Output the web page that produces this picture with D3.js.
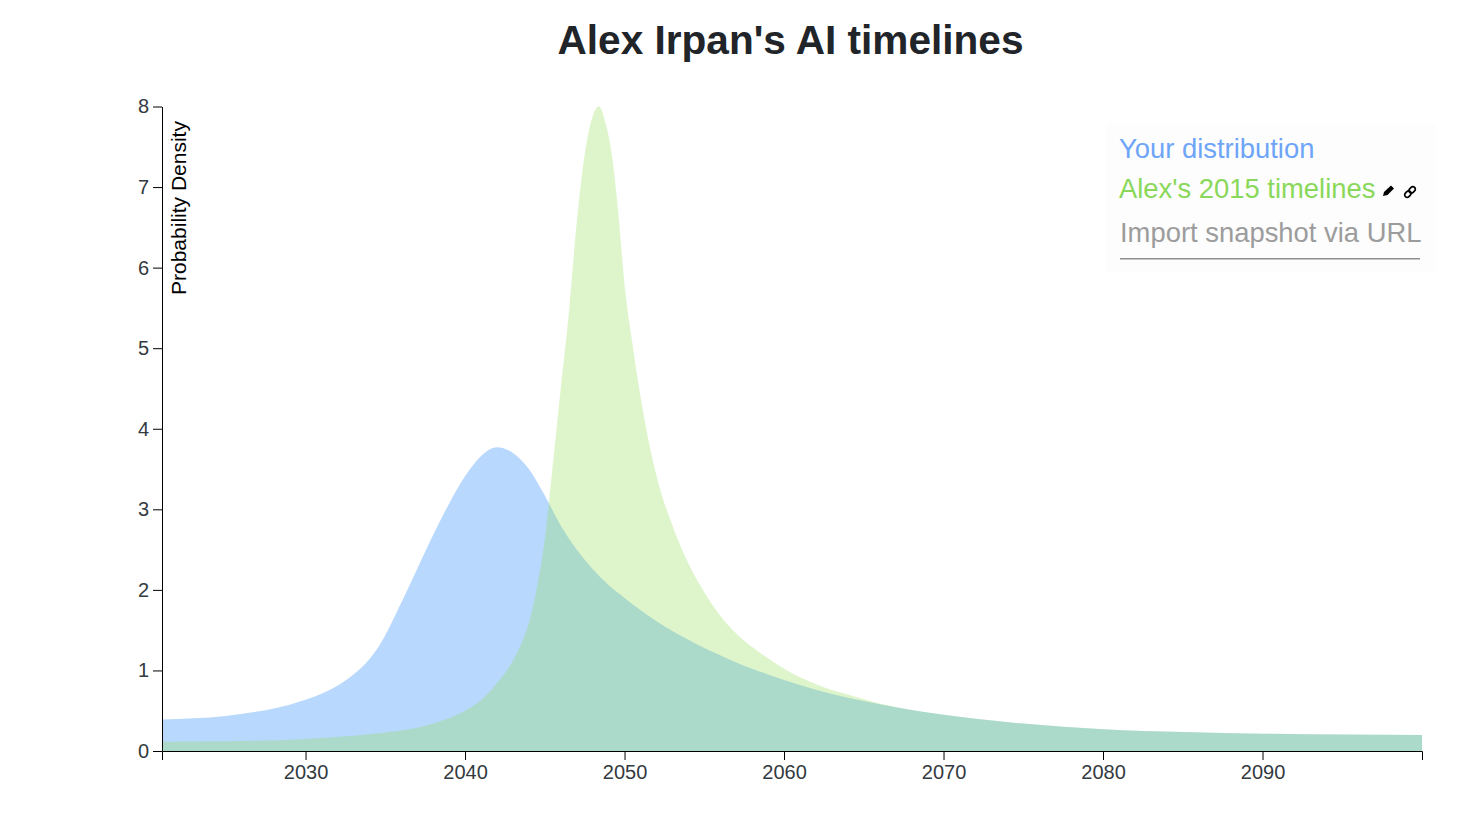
<!DOCTYPE html>
<html>
<head>
<meta charset="utf-8">
<script src="https://cdn.jsdelivr.net/npm/d3@7"></script>
<style>
html,body{margin:0;padding:0;background:#fff;overflow:hidden}
svg{display:block;font-family:"Liberation Sans",Arial,sans-serif}
</style>
</head>
<body>
<svg id="c" width="1460" height="822"></svg>
<script>
const title = "Alex Irpan's AI timelines";
const yLabel = "Probability Density";
const xTicks = [2030,2040,2050,2060,2070,2080,2090];
const yTicks = [0,1,2,3,4,5,6,7,8];
const legendLabels = ["Your distribution","Alex's 2015 timelines","Import snapshot via URL"];

const blueYears = [2021,2023,2025,2027,2029,2030,2031,2032,2033,2034,2034.6,2036,2037,2038,2039,2040,2041,2042,2043,2044,2045,2046,2047,2048,2049,2050,2051,2052,2053,2054,2055,2056,2057,2058,2059,2060,2062,2064,2066,2068,2070,2072,2075,2080,2085,2090,2095,2100];
const blueValues = [0.39,0.405,0.435,0.49,0.575,0.635,0.71,0.81,0.95,1.14,1.30,1.84,2.26,2.68,3.07,3.41,3.66,3.77,3.70,3.50,3.17,2.80,2.50,2.26,2.06,1.90,1.75,1.61,1.49,1.38,1.28,1.19,1.10,1.02,0.95,0.88,0.76,0.66,0.58,0.51,0.45,0.40,0.34,0.27,0.235,0.215,0.205,0.20];

const greenYears = [2021,2025,2030,2033,2035,2037,2038,2039,2040,2041,2042,2043,2043.5,2044,2044.5,2045,2045.5,2046,2046.5,2047,2047.5,2048,2048.4,2048.8,2049.2,2049.6,2050,2050.5,2051,2052,2053,2054,2055,2056,2057,2058,2059,2060,2062,2064,2066,2068,2070,2072,2075,2080,2085,2090,2095,2100];
const greenValues = [0.115,0.12,0.15,0.19,0.23,0.29,0.34,0.41,0.50,0.63,0.84,1.12,1.32,1.59,2.02,2.63,3.55,4.50,5.42,6.55,7.40,7.88,8.00,7.80,7.40,6.70,5.79,5.05,4.40,3.42,2.80,2.33,1.97,1.68,1.46,1.29,1.15,1.02,0.83,0.70,0.59,0.51,0.45,0.40,0.34,0.27,0.235,0.215,0.205,0.20];

const strayMarkerYear = [2102.6];
const strayMarkerValue = [0.63];

const svg = d3.select("#c");
const x = d3.scaleLinear().domain([2021,2100]).range([162,1422]);
const y = d3.scaleLinear().domain([0,8]).range([751,106.5]);

const area = d3.area().x(d=>x(d[0])).y0(y(0)).y1(d=>y(d[1])).curve(d3.curveMonotoneX);
svg.append("path").datum(d3.zip(blueYears,blueValues)).attr("d",area).attr("fill","#71b1fb").attr("fill-opacity",0.5);
svg.append("path").datum(d3.zip(greenYears,greenValues)).attr("d",area).attr("fill","#91de55").attr("fill-opacity",0.3);

svg.append("path")
  .attr("d",d3.symbol(d3.symbolTriangle,22)())
  .attr("transform",`translate(${x(strayMarkerYear[0])},${y(strayMarkerValue[0])})`)
  .attr("fill","#91de55");

const gx = svg.append("g").attr("transform",`translate(0,${y(0)})`)
  .call(d3.axisBottom(x).tickValues(xTicks).tickFormat(d3.format("d")).tickSize(9).tickPadding(4.5));
const gy = svg.append("g").attr("transform",`translate(${x(2021)},0)`)
  .call(d3.axisLeft(y).tickValues(yTicks).tickSize(9).tickSizeOuter(0).tickPadding(4));
[gx,gy].forEach(g=>{
  g.selectAll("text").attr("font-size",20).attr("font-family",'"Liberation Sans",Arial,sans-serif').attr("fill","#333a40");
  g.selectAll("line").attr("stroke","#000").attr("stroke-width",1);
  g.select(".domain").attr("stroke","#000").attr("stroke-width",1);
});

svg.append("text").attr("x",790.5).attr("y",54).attr("text-anchor","middle")
  .attr("font-size",40.6).attr("font-weight",700).attr("fill","#212529").text(title);

svg.append("text").attr("transform","translate(186,295) rotate(-90)")
  .attr("font-size",21).attr("fill","#000").text(yLabel);

svg.append("rect").attr("x",1105).attr("y",123).attr("width",331).attr("height",149).attr("rx",4).attr("fill","#fdfdfd");
const legendColors = ["#6ea5f8","#8ad85a","#9c9c9c"];
const legendY = [158,198,242];
legendLabels.forEach((t,i)=>{
  svg.append("text").attr("x",1119+(i==2?1:0)).attr("y",legendY[i])
    .attr("font-size",27.4).attr("fill",legendColors[i]).text(t);
});
svg.append("line").attr("x1",1120).attr("x2",1420).attr("y1",258.8).attr("y2",258.8).attr("stroke","#8f8f8f").attr("stroke-width",1.5);

svg.append("path").attr("d","M1383 196 L1384 192 L1391 185.5 L1394 188.5 L1387.5 195 Z").attr("fill","#000");
svg.append("g").attr("transform","translate(1410,192) rotate(-45)").attr("fill","none").attr("stroke","#000").attr("stroke-width",1.7)
  .selectAll("rect").data([-3,3]).join("rect")
  .attr("x",d=>d-3.5).attr("y",-2.5).attr("width",7).attr("height",5).attr("rx",2.5);
</script>
</body>
</html>
